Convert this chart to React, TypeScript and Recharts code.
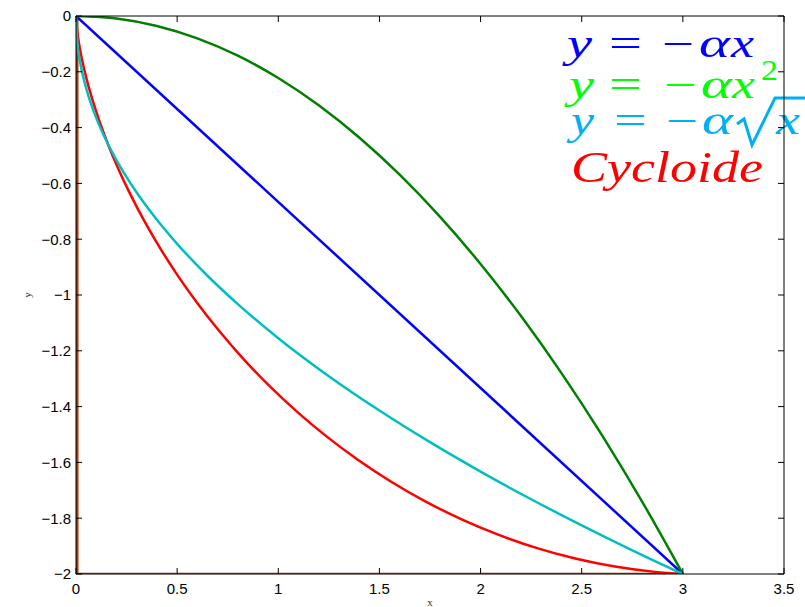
import React from 'react';
import { LineChart, Line, XAxis, YAxis } from 'recharts';

// Axis ticks
const X_TICKS = [0, 0.5, 1, 1.5, 2, 2.5, 3, 3.5];
const Y_TICKS = [0, -0.2, -0.4, -0.6, -0.8, -1, -1.2, -1.4, -1.6, -1.8, -2];

// Straight ramp y = -αx
const rampLinear = [
  { x: 0, y: 0 },
  { x: 3, y: -2 },
];

// Parabola y = -αx²
const rampSquare = [
  { x: 0, y: 0 }, { x: 0.2, y: -0.0089 }, { x: 0.4, y: -0.0356 }, { x: 0.6, y: -0.08 },
  { x: 0.8, y: -0.1422 }, { x: 1.0, y: -0.2222 }, { x: 1.2, y: -0.32 }, { x: 1.4, y: -0.4356 },
  { x: 1.6, y: -0.5689 }, { x: 1.8, y: -0.72 }, { x: 2.0, y: -0.8889 }, { x: 2.2, y: -1.0756 },
  { x: 2.4, y: -1.28 }, { x: 2.6, y: -1.5022 }, { x: 2.8, y: -1.7422 }, { x: 3.0, y: -2 },
];

// Root curve y = -α√x
const rampRoot = [
  { x: 0, y: 0 }, { x: 0.005, y: -0.0816 }, { x: 0.02, y: -0.1633 }, { x: 0.05, y: -0.2582 },
  { x: 0.1, y: -0.3651 }, { x: 0.15, y: -0.4472 }, { x: 0.2, y: -0.5164 }, { x: 0.3, y: -0.6325 },
  { x: 0.4, y: -0.7303 }, { x: 0.5, y: -0.8165 }, { x: 0.65, y: -0.931 }, { x: 0.8, y: -1.0328 },
  { x: 1.0, y: -1.1547 }, { x: 1.25, y: -1.291 }, { x: 1.5, y: -1.4142 }, { x: 1.75, y: -1.5275 },
  { x: 2.0, y: -1.633 }, { x: 2.25, y: -1.7321 }, { x: 2.5, y: -1.8257 }, { x: 2.75, y: -1.9149 },
  { x: 3.0, y: -2 },
];

// Cycloid arc
const cycloid = [
  { x: 0, y: 0 }, { x: 0.0002, y: -0.005 }, { x: 0.0013, y: -0.02 }, { x: 0.0045, y: -0.0447 },
  { x: 0.0106, y: -0.079 }, { x: 0.0206, y: -0.1226 }, { x: 0.0354, y: -0.1749 }, { x: 0.0558, y: -0.2354 },
  { x: 0.0827, y: -0.3037 }, { x: 0.1168, y: -0.3788 }, { x: 0.1587, y: -0.4603 }, { x: 0.209, y: -0.5471 },
  { x: 0.2683, y: -0.6384 }, { x: 0.3368, y: -0.7334 }, { x: 0.415, y: -0.831 }, { x: 0.5031, y: -0.9304 },
  { x: 0.6012, y: -1.0304 }, { x: 0.7092, y: -1.1302 }, { x: 0.8271, y: -1.2287 }, { x: 0.9548, y: -1.3249 },
  { x: 1.092, y: -1.4178 }, { x: 1.2383, y: -1.5067 }, { x: 1.3932, y: -1.5904 }, { x: 1.5562, y: -1.6683 },
  { x: 1.7266, y: -1.7395 }, { x: 1.9038, y: -1.8033 }, { x: 2.087, y: -1.8591 }, { x: 2.2753, y: -1.9064 },
  { x: 2.468, y: -1.9446 }, { x: 2.6639, y: -1.9733 }, { x: 2.8623, y: -1.9924 }, { x: 3.0, y: -2 },
];

// Vertical drop then flat floor
const dropAndFloor = [
  { x: 0.006, y: 0 },
  { x: 0.006, y: -2 },
  { x: 3, y: -2 },
];

const fmtY = (v: number) => (v === 0 ? '0' : '\u2212' + String(Math.abs(v)));
const fmtX = (v: number) => String(v);

const tickFont = { fontSize: 15, fill: '#000', fontFamily: '"Liberation Sans", Arial, sans-serif' };
const mathFont = '"Liberation Serif", "Times New Roman", serif';
const noLabel = () => <g />;

type Piece = { t: string; x: number; w: number; italic?: boolean; size?: number; dy?: number };

function MathRow({ pieces, y, color }: { pieces: Piece[]; y: number; color: string }) {
  return (
    <g fill={color}>
      {pieces.map((p, i) => (
        <text
          key={i}
          x={p.x}
          y={y + (p.dy || 0)}
          fontFamily={mathFont}
          fontStyle={p.italic ? 'italic' : 'normal'}
          fontSize={p.size || 40}
          textLength={p.w}
          lengthAdjust="spacingAndGlyphs"
        >
          {p.t}
        </text>
      ))}
    </g>
  );
}

function Legend() {
  return (
    <svg
      width={805}
      height={607}
      style={{ position: 'absolute', left: 0, top: 0, overflow: 'hidden' }}
    >
      <MathRow
        y={57}
        color="#0000ff"
        pieces={[
          { t: 'y', x: 567, w: 25, italic: true },
          { t: '=', x: 609, w: 33 },
          { t: '\u2212', x: 662, w: 32 },
          { t: '\u03b1', x: 699, w: 31, italic: true },
          { t: 'x', x: 731, w: 23, italic: true },
        ]}
      />
      <MathRow
        y={98}
        color="#00ff00"
        pieces={[
          { t: 'y', x: 569, w: 25, italic: true },
          { t: '=', x: 609, w: 33 },
          { t: '\u2212', x: 664, w: 33 },
          { t: '\u03b1', x: 701, w: 31, italic: true },
          { t: 'x', x: 732, w: 23, italic: true },
          { t: '2', x: 761, w: 17, size: 30, dy: -18 },
        ]}
      />
      <MathRow
        y={134}
        color="#00b0f0"
        pieces={[
          { t: 'y', x: 571, w: 23, italic: true },
          { t: '=', x: 614, w: 33 },
          { t: '\u2212', x: 666, w: 32 },
          { t: '\u03b1', x: 702, w: 31, italic: true },
          { t: 'x', x: 776, w: 24, italic: true },
        ]}
      />
      <path d="M737,124 L744,119 L752,145 L775,98 L805,98" fill="none" stroke="#00b0f0" strokeWidth={3} strokeLinejoin="miter" />
      <MathRow
        y={182}
        color="#ff0000"
        pieces={[{ t: 'Cycloide', x: 571, w: 192, italic: true, size: 44 }]}
      />
      <text x={430} y={606} textAnchor="middle" fontFamily={mathFont} fontSize={11} fill="#333">x</text>
      <text
        x={0}
        y={0}
        transform="translate(31,295) rotate(-90)"
        textAnchor="middle"
        fontFamily={mathFont}
        fontSize={11}
        fill="#333"
      >
        y
      </text>
    </svg>
  );
}

export default function App() {
  return (
    <div style={{ position: 'absolute', left: 0, top: 0, width: 805, height: 607, background: '#fff' }}>
      <Legend />
      <div style={{ position: 'absolute', left: 0, top: 0 }}>
        <LineChart width={805} height={607} margin={{ top: 15, right: 20, bottom: 0, left: 0 }}>
          <XAxis
            xAxisId="bottom"
            type="number"
            dataKey="x"
            domain={[0, 3.5]}
            ticks={X_TICKS}
            tickFormatter={fmtX}
            orientation="bottom"
            height={33}
            stroke="#000"
            tickSize={-6}
            tickMargin={15}
            tick={tickFont}
            allowDataOverflow
          />
          <XAxis
            xAxisId="top"
            type="number"
            dataKey="x"
            domain={[0, 3.5]}
            ticks={X_TICKS}
            orientation="top"
            height={1}
            stroke="#000"
            tickSize={-6}
            tick={noLabel}
            allowDataOverflow
          />
          <YAxis
            yAxisId="left"
            type="number"
            domain={[-2, 0]}
            ticks={Y_TICKS}
            tickFormatter={fmtY}
            orientation="left"
            width={76}
            stroke="#000"
            tickSize={-6}
            tickMargin={11}
            tick={tickFont}
            allowDataOverflow
          />
          <YAxis
            yAxisId="right"
            type="number"
            domain={[-2, 0]}
            ticks={Y_TICKS}
            orientation="right"
            width={1}
            stroke="#000"
            tickSize={-6}
            tick={noLabel}
            allowDataOverflow
          />
          {/* invisible series that binds the top and right frame axes */}
          <Line xAxisId="top" yAxisId="right" data={rampLinear} dataKey="y" type="linear" stroke="none" strokeWidth={0} dot={false} activeDot={false} legendType="none" isAnimationActive={false} />
          <Line xAxisId="bottom" yAxisId="left" data={dropAndFloor} dataKey="y" type="linear" stroke="#a33c0a" strokeWidth={2.6} dot={false} isAnimationActive={false} />
          <Line xAxisId="bottom" yAxisId="left" data={rampLinear} dataKey="y" type="linear" stroke="#0000ff" strokeWidth={2.5} dot={false} isAnimationActive={false} />
          <Line xAxisId="bottom" yAxisId="left" data={rampSquare} dataKey="y" type="monotone" stroke="#008000" strokeWidth={2.5} dot={false} isAnimationActive={false} />
          <Line xAxisId="bottom" yAxisId="left" data={cycloid} dataKey="y" type="monotone" stroke="#ff0000" strokeWidth={2.5} dot={false} isAnimationActive={false} />
          <Line xAxisId="bottom" yAxisId="left" data={rampRoot} dataKey="y" type="monotone" stroke="#00bfbf" strokeWidth={2.5} dot={false} isAnimationActive={false} />
        </LineChart>
      </div>
    </div>
  );
}
